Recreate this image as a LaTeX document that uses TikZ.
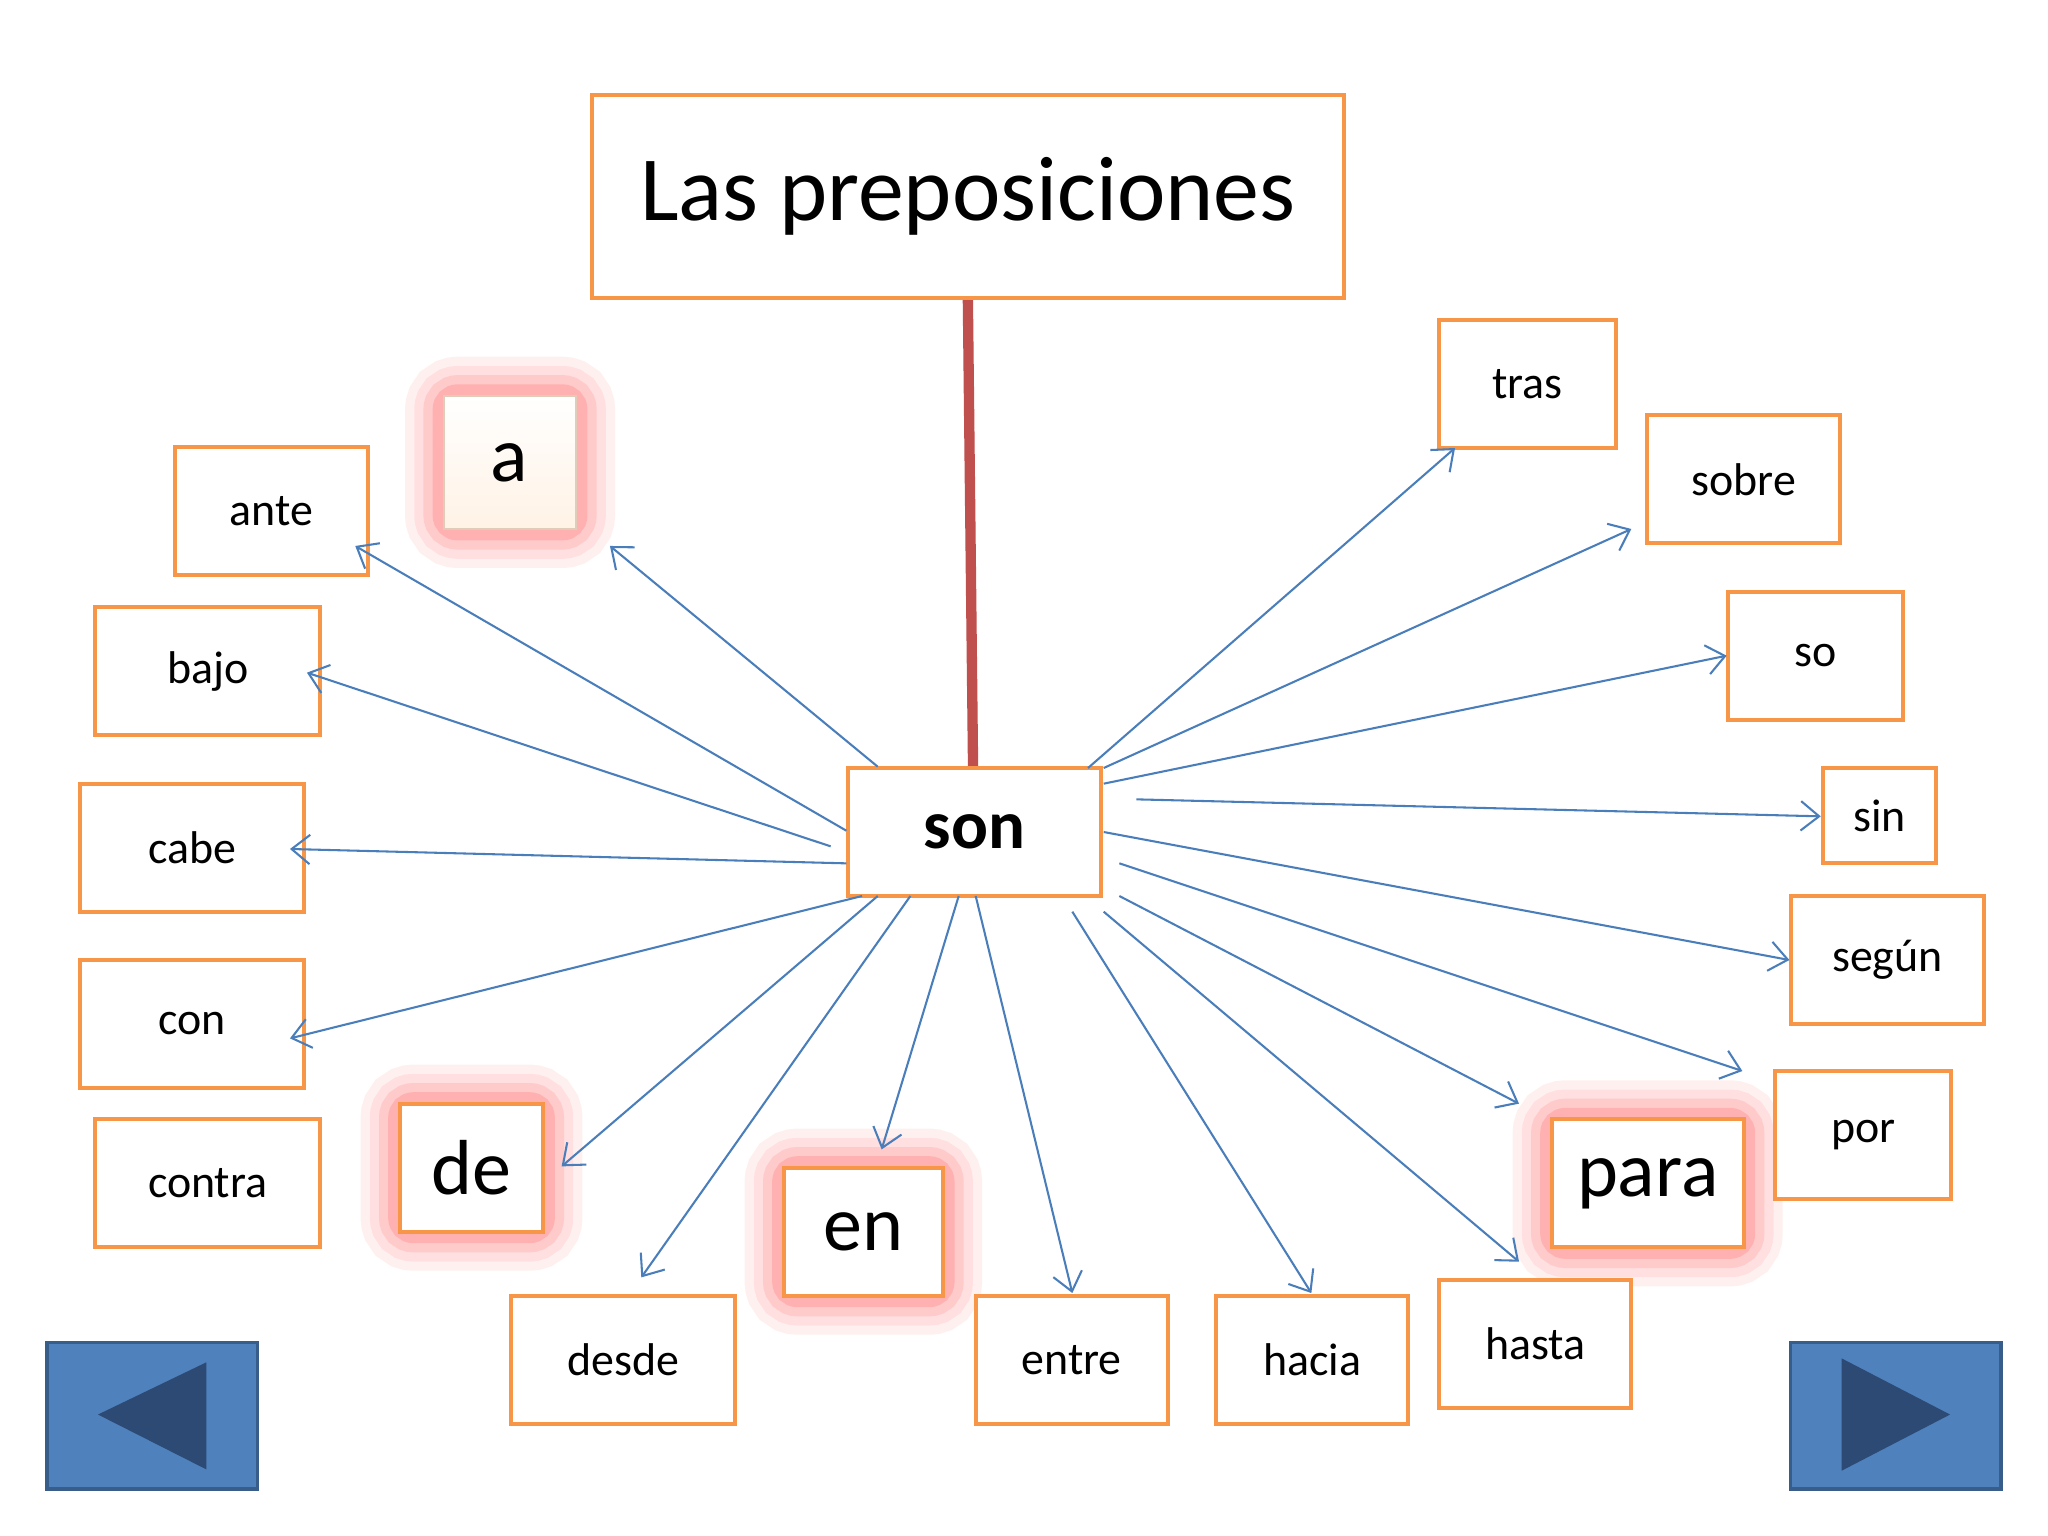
\documentclass[tikz,border=0pt]{standalone}
\usepackage{fontspec}
\setmainfont{Carlito}
\usetikzlibrary{arrows.meta}
\definecolor{org}{HTML}{F79646}
\definecolor{arr}{HTML}{4A7EBB}
\definecolor{redl}{HTML}{C0504D}
\definecolor{btn}{HTML}{4F81BD}
\definecolor{btnd}{HTML}{385D8A}
\definecolor{tri}{HTML}{2C4A74}
\begin{document}
\begin{tikzpicture}[x=0.02cm,y=-0.02cm,
 lab/.style={font=\fontsize{20}{24}\selectfont},
 big/.style={font=\fontsize{34}{40}\selectfont},
 ar/.style={arr,line width=0.9pt,-{Straight Barb[length=2.8mm,width=4.5mm]}}]
\useasboundingbox (0,0) rectangle (1568,1176);
\fill[white] (0,0) rectangle (1568,1176);
\newcommand{\bx}[5]{% name, x1,y1,x2,y2
 \draw[org,line width=1.8pt,fill=white] (#2,#3) rectangle (#4,#5);
 \coordinate (#1) at ({(#2+#4)/2},{(#3+#5)/2});}
\newcommand{\glow}[4]{\foreach \w/\o in {34/0.08,26/0.1,18/0.14,10/0.2}{\draw[red!70,opacity=\o,line width=\w pt,rounded corners=6pt] (#1,#2) rectangle (#3,#4);}}
% glows
\glow{340}{303}{441}{405}
\glow{306}{845}{416}{943}
\glow{600}{894}{722}{992}
\glow{1188}{857}{1335}{955}
% red line
\draw[redl,line width=4.5pt] (741,228) -- (745,588);
\bx{title}{453}{73}{1029}{228}
\node[font=\fontsize{40}{46}\selectfont] at (title) {Las preposiciones};
\bx{son}{649}{588}{843}{686}
\node[font=\fontsize{30}{36}\selectfont\bfseries] at (son) {son};
% a
\shade[top color=white,bottom color=orange!10,draw=orange!40!gray!40,line width=0.8pt] (340,303) rectangle (441,405);
\coordinate (a) at (390,354);
\node[big] at (a) {a};
\bx{ante}{134}{342}{282}{440}\node[lab] at (ante) {ante};
\bx{bajo}{73}{465}{245}{563}\node[lab] at (bajo) {bajo};
\bx{cabe}{61}{600}{233}{698}\node[lab] at (cabe) {cabe};
\bx{con}{61}{735}{233}{833}\node[lab] at (con) {con};
\bx{contra}{73}{857}{245}{955}\node[lab] at (contra) {contra};
\bx{de}{306}{845}{416}{943}\node[big] at (de) {de};
\bx{desde}{391}{992}{563}{1090}\node[lab] at (desde) {desde};
\bx{en}{600}{894}{722}{992}\node[big] at (en) {en};
\bx{entre}{747}{992}{894}{1090}\node[lab] at (entre) {entre};
\bx{hacia}{931}{992}{1078}{1090}\node[lab] at (hacia) {hacia};
\bx{hasta}{1102}{980}{1249}{1078}\node[lab] at (hasta) {hasta};
\bx{para}{1188}{857}{1335}{955}\node[big] at (para) {para};
\bx{por}{1359}{820}{1494}{918}\node[lab] at (por) {por};
\bx{segun}{1371}{686}{1519}{784}\node[lab] at (segun) {según};
\bx{sin}{1396}{588}{1482}{661}\node[lab] at (sin) {sin};
\bx{so}{1323}{453}{1457}{551}\node[lab] at (so) {so};
\bx{sobre}{1261}{318}{1409}{416}\node[lab] at (sobre) {sobre};
\bx{tras}{1102}{245}{1237}{343}\node[lab] at (tras) {tras};
% arrows
\foreach \x/\y/\u/\v in {672/587/467/418, 648/636/272/418, 636/648/235/515, 648/661/222/650,
 660/686/222/795, 672/686/430/893, 697/686/491/978, 734/686/675/880, 747/686/821/990,
 821/698/1004/990, 845/698/1163/966, 857/686/1163/845, 857/661/1334/820, 845/637/1370/735,
 870/612/1394/625, 845/600/1322/502, 845/588/1249/405, 833/588/1114/343}{
 \draw[ar] (\x,\y) -- (\u,\v);}
% buttons
\draw[btnd,line width=1.5pt,fill=btn] (36,1028) rectangle (197,1140);
\fill[tri] (75,1083) -- (158,1043) -- (158,1125) -- cycle;
\draw[btnd,line width=1.5pt,fill=btn] (1371,1028) rectangle (1532,1140);
\fill[tri] (1493,1083) -- (1410,1040) -- (1410,1126) -- cycle;
\end{tikzpicture}
\end{document}
